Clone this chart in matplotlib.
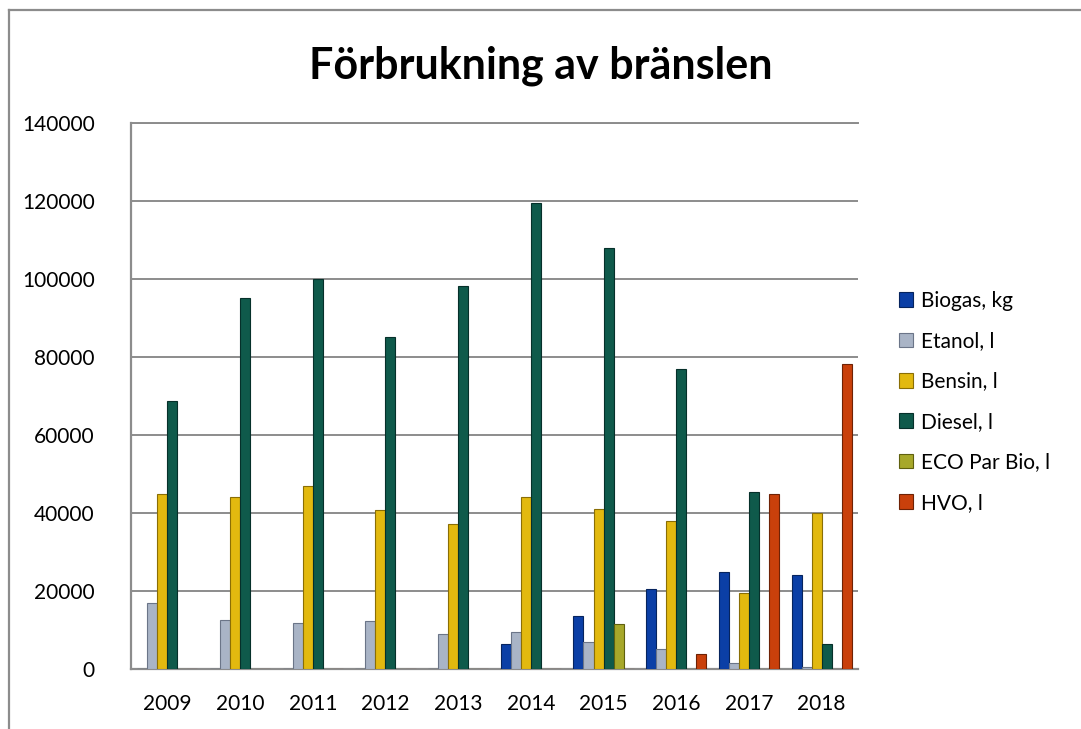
import numpy as np
import matplotlib
matplotlib.use("Agg")
import matplotlib.pyplot as plt
from matplotlib.lines import Line2D

plt.rcParams['font.family'] = ['Lato', 'DejaVu Sans']

years = ["2009", "2010", "2011", "2012", "2013", "2014", "2015", "2016", "2017", "2018"]
series_names = ["Biogas, kg", "Etanol, l", "Bensin, l", "Diesel, l", "ECO Par Bio, l", "HVO, l"]

biogas = [0, 0, 0, 0, 0, 6500, 13500, 20600, 25000, 24200]
etanol = [16900, 12600, 11900, 12300, 9050, 9600, 6800, 5200, 1650, 600]
bensin = [44800, 44000, 47000, 40700, 37100, 44000, 41100, 38000, 19600, 39900]
diesel = [68600, 95200, 100100, 85200, 98100, 119400, 107900, 76800, 45500, 6300]
eco_par_bio = [0, 0, 0, 0, 0, 0, 11600, 0, 0, 0]
hvo = [0, 0, 0, 0, 0, 0, 0, 3800, 45000, 78300]

colors = ["#0b3fa6", "#a9b4c6", "#e2b90f", "#0f5a4b", "#a7a82a", "#c9400b"]
edges = ["#06245e", "#6b7588", "#8a6e05", "#06302a", "#5f600f", "#6e2205"]

fig = plt.figure(figsize=(10.81, 7.29), dpi=100)
ax = fig.add_axes([131 / 1081, 1 - 669 / 729, (858 - 131) / 1081, (669 - 123) / 729])

x = np.arange(len(years))
w = 0.138
data = [biogas, etanol, bensin, diesel, eco_par_bio, hvo]
for i, (name, vals) in enumerate(zip(series_names, data)):
    ax.bar(x + (i - 2.5) * w, vals, width=w, color=colors[i],
           edgecolor=edges[i], linewidth=0.8, label=name, zorder=3)

ax.set_xlim(-0.5, len(years) - 0.5)
ax.set_ylim(0, 140000)
ax.set_yticks(np.arange(0, 140001, 20000))
ax.set_yticklabels([str(v) for v in range(0, 140001, 20000)])
ax.set_xticks(x)
ax.set_xticklabels(years)
ax.tick_params(axis="both", length=0, labelsize=15, colors="#000000")
ax.tick_params(axis="y", pad=26)
ax.tick_params(axis="x", pad=18)

ax.grid(axis="y", color="#8c8c8c", linewidth=1.4, zorder=0)
for s in ["top", "right"]:
    ax.spines[s].set_visible(False)
for s in ["left", "bottom"]:
    ax.spines[s].set_color("#8c8c8c")
    ax.spines[s].set_linewidth(1.6)
ax.axhline(140000, color="#8c8c8c", linewidth=1.4, zorder=0, clip_on=False)

fig.suptitle("Förbrukning av bränslen", x=0.5, y=0.937, fontsize=31, fontweight="bold")

leg = fig.legend(loc="upper left", bbox_to_anchor=(880 / 1081, 1 - 272 / 729),
                 frameon=False, fontsize=15, handlelength=0.7, handleheight=0.7,
                 handletextpad=0.35, labelspacing=0.98)

# outer chart border (top and left only visible)
fig.add_artist(Line2D([9 / 1081, 1.0], [1 - 10 / 729, 1 - 10 / 729], color="#8c8c8c", linewidth=1.6))
fig.add_artist(Line2D([9 / 1081, 9 / 1081], [0.0, 1 - 10 / 729], color="#8c8c8c", linewidth=1.6))

fig.savefig("out.png", dpi=100, facecolor="white")
